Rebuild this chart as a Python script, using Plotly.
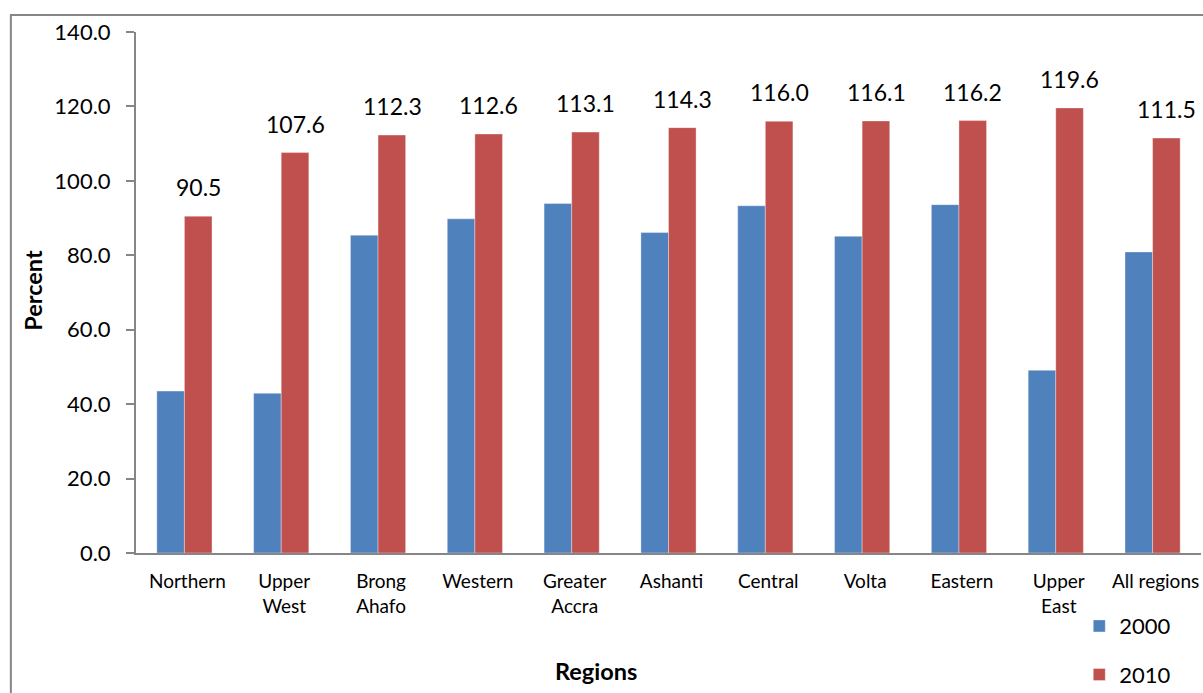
import plotly.graph_objects as go

regions = ["Northern", "Upper<br>West", "Brong<br>Ahafo", "Western", "Greater<br>Accra",
           "Ashanti", "Central", "Volta", "Eastern", "Upper<br>East", "All regions"]
values_2000 = [43.5, 42.9, 85.4, 89.8, 93.9, 86.1, 93.3, 85.1, 93.6, 49.1, 80.9]
values_2010 = [90.5, 107.6, 112.3, 112.6, 113.1, 114.3, 116.0, 116.1, 116.2, 119.6, 111.5]
y_ticks = [0, 20, 40, 60, 80, 100, 120, 140]

FONT = "Lato, 'Open Sans', Arial, sans-serif"
BLUE = "#4F81BD"
RED = "#C0504D"
AXIS = "#868686"

fig = go.Figure()
fig.add_trace(go.Bar(x=regions, y=values_2000, name="2000", marker_color=BLUE,
                     marker_line=dict(color="rgba(255,255,255,0.35)", width=1),
                     legendgroup="a"))
fig.add_trace(go.Bar(x=regions, y=values_2010, name="2010", marker_color=RED,
                     marker_line=dict(color="rgba(255,255,255,0.35)", width=1),
                     legendgroup="b"))

for r, v in zip(regions, values_2010):
    fig.add_annotation(x=r, y=v, text=f"{v:.1f}", showarrow=False, xref="x", yref="y",
                       yanchor="bottom", xanchor="center", xshift=14, yshift=13,
                       font=dict(family=FONT, size=23, color="black"))

# axis titles
fig.add_annotation(x=-0.0968, y=0.505, xref="paper", yref="paper", text="<b>Percent</b>",
                   xanchor="center", yanchor="middle",
                   textangle=-90, showarrow=False, font=dict(family=FONT, size=23.5, color="black"))
fig.add_annotation(x=0.432, y=-0.2265, xref="paper", yref="paper", text="<b>Regions</b>",
                   xanchor="center", yanchor="middle",
                   showarrow=False, font=dict(family=FONT, size=23.5, color="black"))

# outer border
fig.add_shape(type="rect", xref="paper", yref="paper", x0=-0.1175, x1=1.0085,
              y0=-0.282, y1=1.0326, line=dict(color=AXIS, width=2), layer="below")

fig.update_layout(
    width=1203, height=693,
    margin=dict(l=136.1, r=2.3, t=32, b=140, autoexpand=False),
    paper_bgcolor="white", plot_bgcolor="white",
    barmode="group", bargap=0.43, bargroupgap=0,
    font=dict(family=FONT, color="black"),
    showlegend=True,
    legend=dict(x=0.8857, y=-0.100, xanchor="left", yanchor="top",
                font=dict(family=FONT, size=22, color="black"),
                tracegroupgap=17, traceorder="grouped", bgcolor="rgba(0,0,0,0)"),
    xaxis=dict(showline=True, linecolor=AXIS, linewidth=2, ticks="",
               tickfont=dict(family=FONT, size=19, color="black"),
               ticklabelstandoff=10, ticklabelshift=3, showgrid=False, automargin=False),
    yaxis=dict(range=[0, 140], tickvals=y_ticks, tickformat=".1f",
               showline=True, linecolor=AXIS, linewidth=2, ticks="outside",
               ticklen=8, tickcolor=AXIS, tickwidth=2,
               tickfont=dict(family=FONT, size=22, color="black"),
               ticklabelstandoff=11, showgrid=False, zeroline=False, automargin=False),
)

fig.write_html("out.html", config={"displayModeBar": False},
               post_script="document.body.style.margin='0';document.body.style.overflow='hidden';")
